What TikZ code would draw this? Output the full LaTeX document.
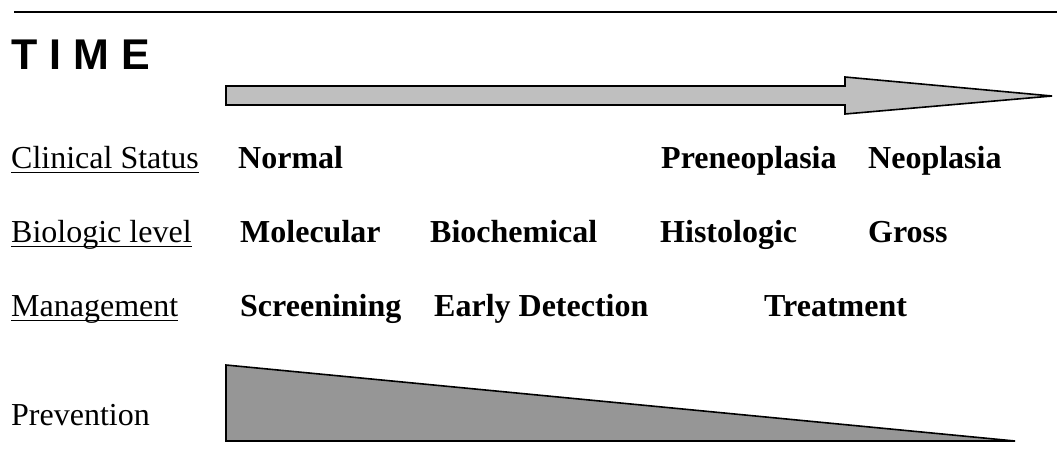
\documentclass[tikz,border=0pt]{standalone}
\usepackage{fontspec}
\setmainfont{Liberation Serif}
\newfontfamily\headfont{Liberation Sans}
\usepackage{tikz}
\usetikzlibrary{calc}
\colorlet{arrowgray}{black!25}
\colorlet{wedgegray}{black!41}

\tikzset{
  rowlabel/.style={anchor=base west, inner sep=0pt, font=\fontsize{32}{36}\selectfont},
  stage/.style={anchor=base west, inner sep=0pt, font=\fontsize{32}{36}\selectfont\bfseries},
}

\begin{document}
\begin{tikzpicture}[x=1pt, y=-1pt, line join=miter]
  \useasboundingbox (0,0) rectangle (1057,475);
  % rule and heading
  \draw[line width=2pt] (14,12) -- (1057,12);
  \node[anchor=base west, inner sep=0pt, font=\headfont\fontsize{43}{48}\selectfont\bfseries] (time) at (11,69) {T I M E};
  % time arrow
  \draw[line width=1.6pt, fill=arrowgray]
    (226,86) -- (845,86) -- (845,77) -- (1052,96) -- (845,114) -- (845,105) -- (226,105) -- cycle;

  % row labels
  \node[rowlabel] (clinical)   at (11,168) {Clinical Status};
  \node[rowlabel] (biologic)   at (11,242) {Biologic level};
  \node[rowlabel] (management) at (11,316) {Management};
  \node[rowlabel] (prevention) at (11,425) {Prevention};
  \foreach \lab in {clinical, biologic, management}
    \draw[line width=1.5pt] ($(\lab.base west)+(0,4.5)$) -- ($(\lab.base east)+(0,4.5)$);

  % clinical status
  \node[stage] (normal) at (238,168) {Normal};
  \node[stage] (preneo) at (661,168) {Preneoplasia};
  \node[stage] (neo)    at (868,168) {Neoplasia};
  % biologic level
  \node[stage] (molecular) at (240,242) {Molecular};
  \node[stage] (biochem)   at (430,242) {Biochemical};
  \node[stage] (histo)     at (660,242) {Histologic};
  \node[stage] (gross)     at (868,242) {Gross};
  % management
  \node[stage] (screen) at (240,316) {Screenining};
  \node[stage] (early)  at (434,316) {Early Detection};
  \node[stage] (treat)  at (764,316) {Treatment};

  % prevention wedge
  \draw[line width=1.6pt, fill=wedgegray] (226,365) -- (1015,441) -- (226,441) -- cycle;
\end{tikzpicture}
\end{document}
